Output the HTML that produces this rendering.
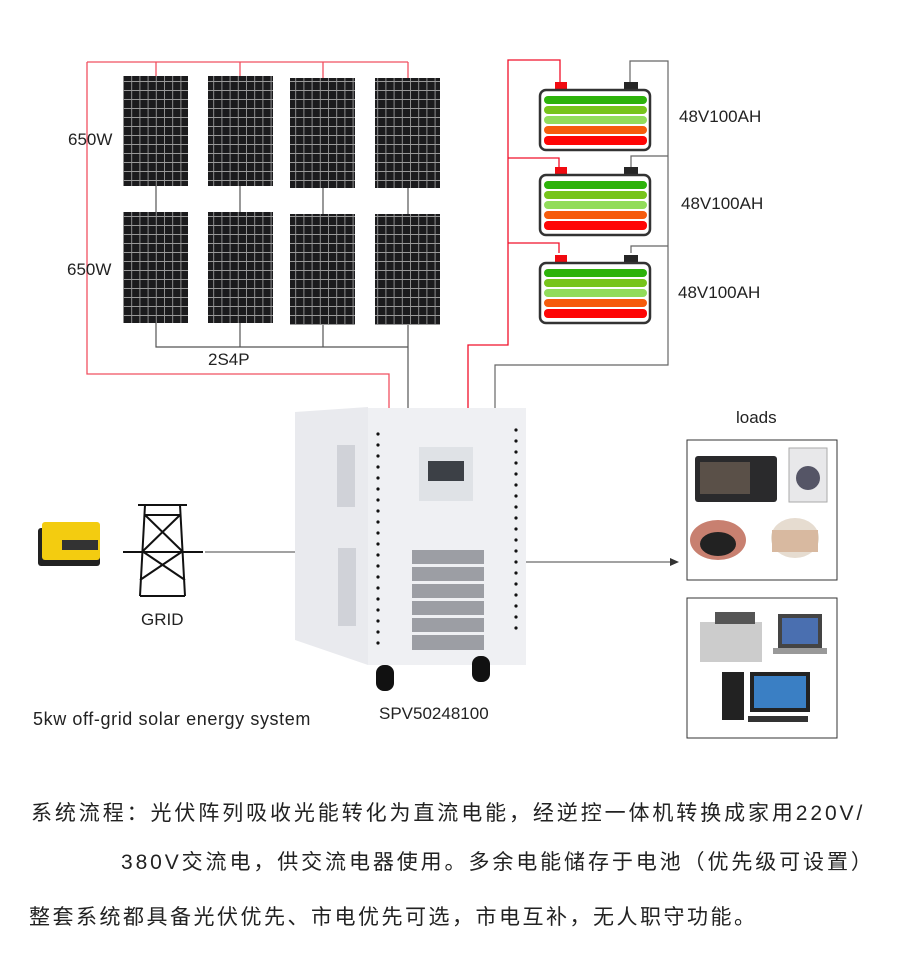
<!DOCTYPE html>
<html><head><meta charset="utf-8"><style>
body{margin:0;background:#fff;width:900px;height:980px;overflow:hidden;font-family:"Liberation Sans","Noto Sans CJK SC",sans-serif;}
.t{position:absolute;color:#222;white-space:nowrap}
.c{letter-spacing:2.9px}
</style></head><body>
<svg width="900" height="980" style="position:absolute;left:0;top:0">
<defs>
<pattern id="cell" width="8.2" height="9" patternUnits="userSpaceOnUse">
<rect width="8.2" height="9" fill="#1b1b1d"/><path d="M0 0.5H8.2M0.5 0V9" stroke="#999" stroke-width="0.9"/>
</pattern>
<g id="bat">
<rect x="555" y="0" width="12" height="8" fill="#f10a10"/>
<rect x="624" y="0" width="14" height="8" fill="#262626"/>
<rect x="540" y="8" width="110" height="60" rx="6" fill="#fff" stroke="#333" stroke-width="2.5"/>
<rect x="544" y="14" width="103" height="8" rx="4" fill="#2db20a"/>
<rect x="544" y="24" width="103" height="8" rx="4" fill="#77c41b"/>
<rect x="544" y="34" width="103" height="8" rx="4" fill="#92dc5b"/>
<rect x="544" y="44" width="103" height="8" rx="4" fill="#f65b0c"/>
<rect x="544" y="54" width="103" height="9" rx="4" fill="#fe0505"/>
</g>
</defs>
<g fill="none" stroke="#f05060" stroke-width="1.3">
<path d="M87 62H408M87 62V374H389V408"/>
<path d="M156 62V76M240 62V76M323 62V78M408 62V78"/>
</g>
<g fill="none" stroke="#555" stroke-width="1.2">
<path d="M156 186V212M240 186V212M323 188V214M408 188V214"/>
<path d="M156 323V347H408M240 323V347M323 325V347M408 325V408"/>
</g>
<rect x="123" y="76" width="65" height="110" fill="url(#cell)"/>
<rect x="208" y="76" width="65" height="110" fill="url(#cell)"/>
<rect x="290" y="78" width="65" height="110" fill="url(#cell)"/>
<rect x="375" y="78" width="65" height="110" fill="url(#cell)"/>
<rect x="123" y="212" width="65" height="111" fill="url(#cell)"/>
<rect x="208" y="212" width="65" height="111" fill="url(#cell)"/>
<rect x="290" y="214" width="65" height="111" fill="url(#cell)"/>
<rect x="375" y="214" width="65" height="111" fill="url(#cell)"/>
<g fill="none" stroke="#f0102a" stroke-width="1.3">
<path d="M560 82V60H508V345H468V410M508 158H559V167M508 243H559V253"/>
</g>
<g fill="none" stroke="#666" stroke-width="1.2">
<path d="M630 82V61H668V365H495V410M668 156H631V167M668 246H631V253"/>
</g>
<use href="#bat" y="82"/>
<use href="#bat" y="167"/>
<use href="#bat" y="255"/>
<path d="M205 552H297" stroke="#444" stroke-width="1"/>
<path d="M525 562H670" stroke="#444" stroke-width="1"/>
<path d="M670 558L679 562L670 566Z" fill="#333"/>
<path d="M295 412L368 407V665L295 640Z" fill="#e9eaee"/>
<rect x="368" y="408" width="158" height="257" fill="#eff0f3"/>
<g fill="#d0d2d8"><rect x="337" y="445" width="18" height="62"/><rect x="338" y="548" width="18" height="78"/></g>
<g fill="#9c9ea4"><rect x="412" y="550" width="72" height="100"/></g>
<g fill="#eff0f3"><rect x="412" y="564" width="72" height="3"/><rect x="412" y="581" width="72" height="3"/><rect x="412" y="598" width="72" height="3"/><rect x="412" y="615" width="72" height="3"/><rect x="412" y="632" width="72" height="3"/></g>
<rect x="419" y="447" width="54" height="54" fill="#dfe2e6"/>
<rect x="428" y="461" width="36" height="20" fill="#3c4046"/>
<g fill="#111">
<circle cx="378" cy="434" r="1.6"/><circle cx="378" cy="445" r="1.6"/><circle cx="378" cy="456" r="1.6"/><circle cx="378" cy="467" r="1.6"/><circle cx="378" cy="478" r="1.6"/><circle cx="378" cy="489" r="1.6"/><circle cx="378" cy="500" r="1.6"/><circle cx="378" cy="511" r="1.6"/><circle cx="378" cy="522" r="1.6"/><circle cx="378" cy="533" r="1.6"/><circle cx="378" cy="544" r="1.6"/><circle cx="378" cy="555" r="1.6"/><circle cx="378" cy="566" r="1.6"/><circle cx="378" cy="577" r="1.6"/><circle cx="378" cy="588" r="1.6"/><circle cx="378" cy="599" r="1.6"/><circle cx="378" cy="610" r="1.6"/><circle cx="378" cy="621" r="1.6"/><circle cx="378" cy="632" r="1.6"/><circle cx="378" cy="643" r="1.6"/>
<circle cx="516" cy="430" r="1.6"/><circle cx="516" cy="441" r="1.6"/><circle cx="516" cy="452" r="1.6"/><circle cx="516" cy="463" r="1.6"/><circle cx="516" cy="474" r="1.6"/><circle cx="516" cy="485" r="1.6"/><circle cx="516" cy="496" r="1.6"/><circle cx="516" cy="507" r="1.6"/><circle cx="516" cy="518" r="1.6"/><circle cx="516" cy="529" r="1.6"/><circle cx="516" cy="540" r="1.6"/><circle cx="516" cy="551" r="1.6"/><circle cx="516" cy="562" r="1.6"/><circle cx="516" cy="573" r="1.6"/><circle cx="516" cy="584" r="1.6"/><circle cx="516" cy="595" r="1.6"/><circle cx="516" cy="606" r="1.6"/><circle cx="516" cy="617" r="1.6"/><circle cx="516" cy="628" r="1.6"/>
<rect x="376" y="665" width="18" height="26" rx="8"/><rect x="472" y="656" width="18" height="26" rx="8"/>
</g>
<rect x="38" y="528" width="62" height="38" fill="#222" rx="3"/>
<rect x="42" y="522" width="58" height="38" fill="#f3cc10" rx="3"/>
<rect x="62" y="540" width="36" height="10" fill="#333"/>
<g fill="none" stroke="#111" stroke-width="2">
<path d="M138 505H187M145 505L140 596M180 505L185 596M145 515H180M142 551L185 580M183 551L140 580M145 515L182 551M180 515L143 551M123 552H203"/>
<path d="M140 596H185"/>
</g>
<rect x="687" y="440" width="150" height="140" fill="#fff" stroke="#333"/>
<rect x="687" y="598" width="150" height="140" fill="#fff" stroke="#333"/>
<rect x="695" y="456" width="82" height="46" fill="#2a2a2c" rx="3"/><rect x="700" y="462" width="50" height="32" fill="#5a5048"/>
<rect x="789" y="448" width="38" height="54" fill="#e8e8ea" stroke="#aaa"/><circle cx="808" cy="478" r="12" fill="#556" />
<ellipse cx="718" cy="540" rx="28" ry="20" fill="#c88070"/><ellipse cx="718" cy="544" rx="18" ry="12" fill="#222"/>
<ellipse cx="795" cy="538" rx="24" ry="20" fill="#e6dcd0"/><rect x="772" y="530" width="46" height="22" fill="#d8b9a0"/>
<rect x="700" y="622" width="62" height="40" fill="#ccc"/><rect x="715" y="612" width="40" height="12" fill="#555"/>
<rect x="778" y="614" width="44" height="34" fill="#444"/><rect x="782" y="618" width="36" height="26" fill="#4a6fb0"/><rect x="773" y="648" width="54" height="6" fill="#999"/>
<rect x="722" y="672" width="22" height="48" fill="#222"/>
<rect x="750" y="672" width="60" height="40" fill="#222"/><rect x="754" y="676" width="52" height="32" fill="#3a7fc4"/><rect x="748" y="716" width="60" height="6" fill="#333"/>
</svg>
<div class="t" style="left:68px;top:130px;font-size:17px">650W</div>
<div class="t" style="left:67px;top:260px;font-size:17px">650W</div>
<div class="t" style="left:208px;top:350px;font-size:17px">2S4P</div>
<div class="t" style="left:679px;top:107px;font-size:17px">48V100AH</div>
<div class="t" style="left:681px;top:194px;font-size:17px">48V100AH</div>
<div class="t" style="left:678px;top:283px;font-size:17px">48V100AH</div>
<div class="t" style="left:736px;top:408px;font-size:17px">loads</div>
<div class="t" style="left:141px;top:610px;font-size:17px">GRID</div>
<div class="t" style="left:33px;top:709px;font-size:18px;letter-spacing:0.6px">5kw off-grid solar energy system</div>
<div class="t" style="left:379px;top:704px;font-size:17px">SPV50248100</div>
<div class="t c" style="left:31px;top:797px;font-size:21px">系统流程：光伏阵列吸收光能转化为直流电能，经逆控一体机转换成家用220V/</div>
<div class="t c" style="left:121px;top:846px;font-size:21px">380V交流电，供交流电器使用。多余电能储存于电池（优先级可设置）</div>
<div class="t c" style="left:29px;top:901px;font-size:21px;letter-spacing:2.5px">整套系统都具备光伏优先、市电优先可选，市电互补，无人职守功能。</div>
</body></html>
